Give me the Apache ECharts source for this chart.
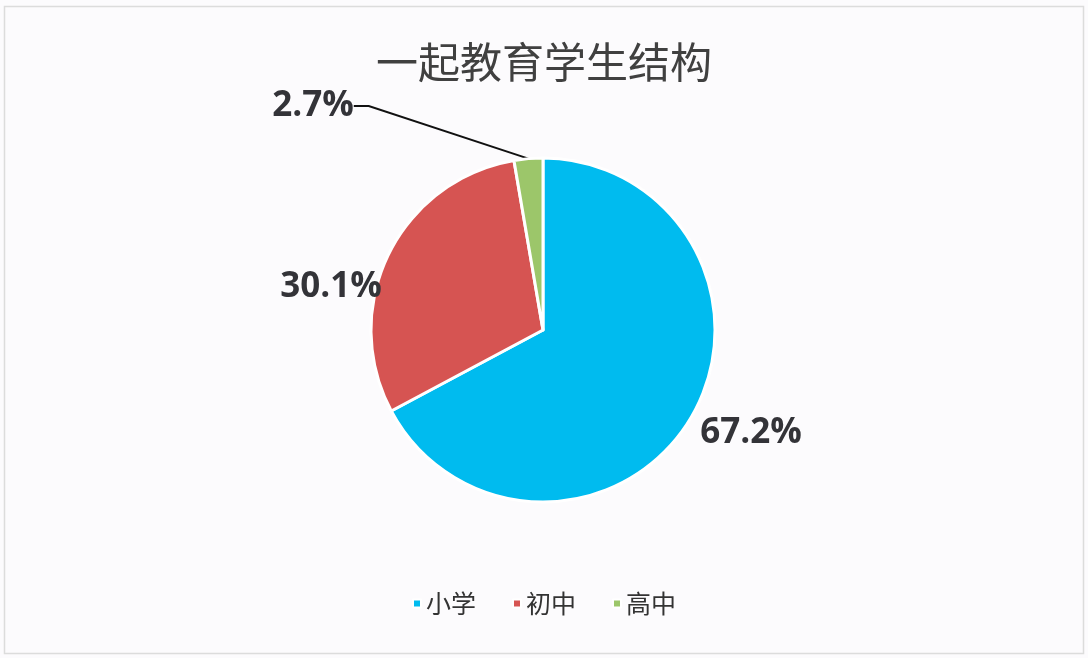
<!DOCTYPE html>
<html>
<head>
<meta charset="utf-8">
<script src="https://cdn.jsdelivr.net/npm/echarts@6/dist/echarts.min.js"></script>
<style>
    html, body { margin: 0; padding: 0; background: #fcfbfd; }
    #chartBox { width: 1088px; height: 658px; }
</style>
</head>
<body>
<div id="chartBox"></div>
<script>
    // 数据
    var categories = ['小学', '初中', '高中'];
    var shares = [67.2, 30.1, 2.7];
    var colors = ['#00bbef', '#d65452', '#9cc66a'];

    // 标签位置（像素）
    var labelPos = [
        { x: 751, y: 433 },
        { x: 331, y: 287 },
        { x: 317, y: 106 }
    ];

    var pieData = [];
    for (var i = 0; i < categories.length; i++) {
        pieData.push({
            name: categories[i],
            value: shares[i],
            itemStyle: { color: colors[i] },
            labelLine: { show: i === 2 },
            // 高中的标签下移引导线
            label: i === 2 ? { padding: [0, 8, 18, 0] } : {}
        });
    }

    var myChart = echarts.init(document.getElementById('chartBox'));
    var option = {
        backgroundColor: '#fcfbfd',
        animation: false,
        title: {
            text: '一起教育学生结构',
            left: 'center',
            top: 36,
            textStyle: {
                fontFamily: 'Noto Sans CJK SC',
                fontSize: 42,
                fontWeight: 'normal',
                color: '#404040'
            }
        },
        legend: {
            data: categories,
            bottom: 37,
            left: 'center',
            icon: 'rect',
            itemWidth: 8,
            itemHeight: 8,
            itemGap: 36,
            textStyle: {
                fontFamily: 'Noto Sans CJK SC',
                fontSize: 25,
                color: '#333'
            }
        },
        graphic: [{
            type: 'rect',
            shape: { x: 4.5, y: 6.5, width: 1079, height: 647 },
            style: { fill: 'none', stroke: '#dcdcdc', lineWidth: 1.5 },
            silent: true
        }],
        series: [{
            type: 'pie',
            center: [543, 330],
            radius: 172,
            startAngle: 90,
            clockwise: true,
            itemStyle: { borderColor: '#ffffff', borderWidth: 3 },
            label: {
                show: true,
                position: 'outside',
                formatter: function (p) { return p.value.toFixed(1) + '%'; },
                fontFamily: 'Open Sans',
                fontWeight: 'bold',
                fontSize: 35,
                color: '#333338'
            },
            labelLine: {
                length: 20,
                length2: 15,
                lineStyle: { color: '#111', width: 2 }
            },
            labelLayout: function (p) {
                var pos = labelPos[p.dataIndex];
                return { x: pos.x, y: pos.y, align: 'center', verticalAlign: 'middle' };
            },
            data: pieData
        }]
    };
    myChart.setOption(option, true);
</script>
</body>
</html>
